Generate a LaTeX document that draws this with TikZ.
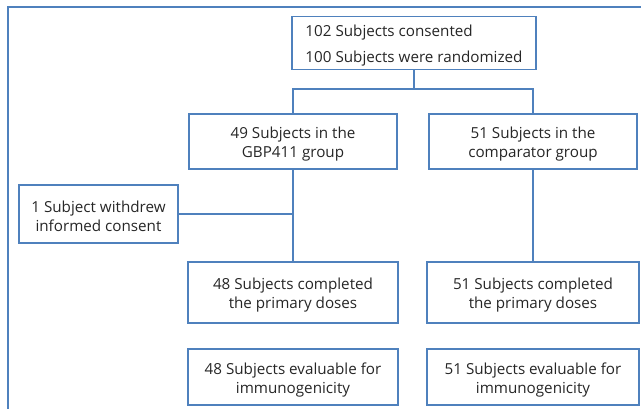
\documentclass[tikz,border=0pt]{standalone}
\usepackage{fontspec}
\setmainfont{Open Sans}
\definecolor{boxblue}{HTML}{4F81BD}
\newcommand\lowstrut{\rule{0pt}{17pt}}
\begin{document}
\begin{tikzpicture}[x=1pt,y=-1pt,
  box/.style={draw=boxblue,line width=1.3pt,align=center,inner sep=0pt,
    font=\fontsize{15.2}{19}\selectfont,text=black!85},
  link/.style={draw=boxblue,line width=1.3pt}]
\useasboundingbox (0,0) rectangle (641,409);
\draw[link] (8,409) -- (8,7) -- (641,7);
\node[box,minimum width=244pt,minimum height=53pt,align=left,font=\fontsize{15.2}{26}\selectfont] (top) at (414,43) {\lowstrut 102 Subjects consented\\100 Subjects were randomized};
\node[box,minimum width=208pt,minimum height=55pt] (g1) at (293,141.5) {\lowstrut 49 Subjects in the\\GBP411 group};
\node[box,minimum width=208pt,minimum height=55pt] (g2) at (533,141.5) {\lowstrut 51 Subjects in the\\comparator group};
\node[box,minimum width=159pt,minimum height=58pt] (wd) at (98.5,214) {\lowstrut 1 Subject withdrew\\informed consent};
\node[box,minimum width=210pt,minimum height=61pt] (c1) at (293,292.5) {\lowstrut 48 Subjects completed\\the primary doses};
\node[box,minimum width=212pt,minimum height=61pt] (c2) at (533,292.5) {\lowstrut 51 Subjects completed\\the primary doses};
\node[box,minimum width=210pt,minimum height=56pt] (e1) at (293,377) {\lowstrut 48 Subjects evaluable for\\immunogenicity};
\node[box,minimum width=212pt,minimum height=56pt] (e2) at (533,377) {\lowstrut 51 Subjects evaluable for\\immunogenicity};
\coordinate (split) at (414,89);
\draw[link] (top.south) -- (split);
\draw[link] (g1.north) |- (split) -| (g2.north);
\draw[link] (g1.south) -- (c1.north);
\draw[link] (g2.south) -- (c2.north);
\draw[link] (wd.east) -- (wd.east -| g1.south);
\end{tikzpicture}
\end{document}
